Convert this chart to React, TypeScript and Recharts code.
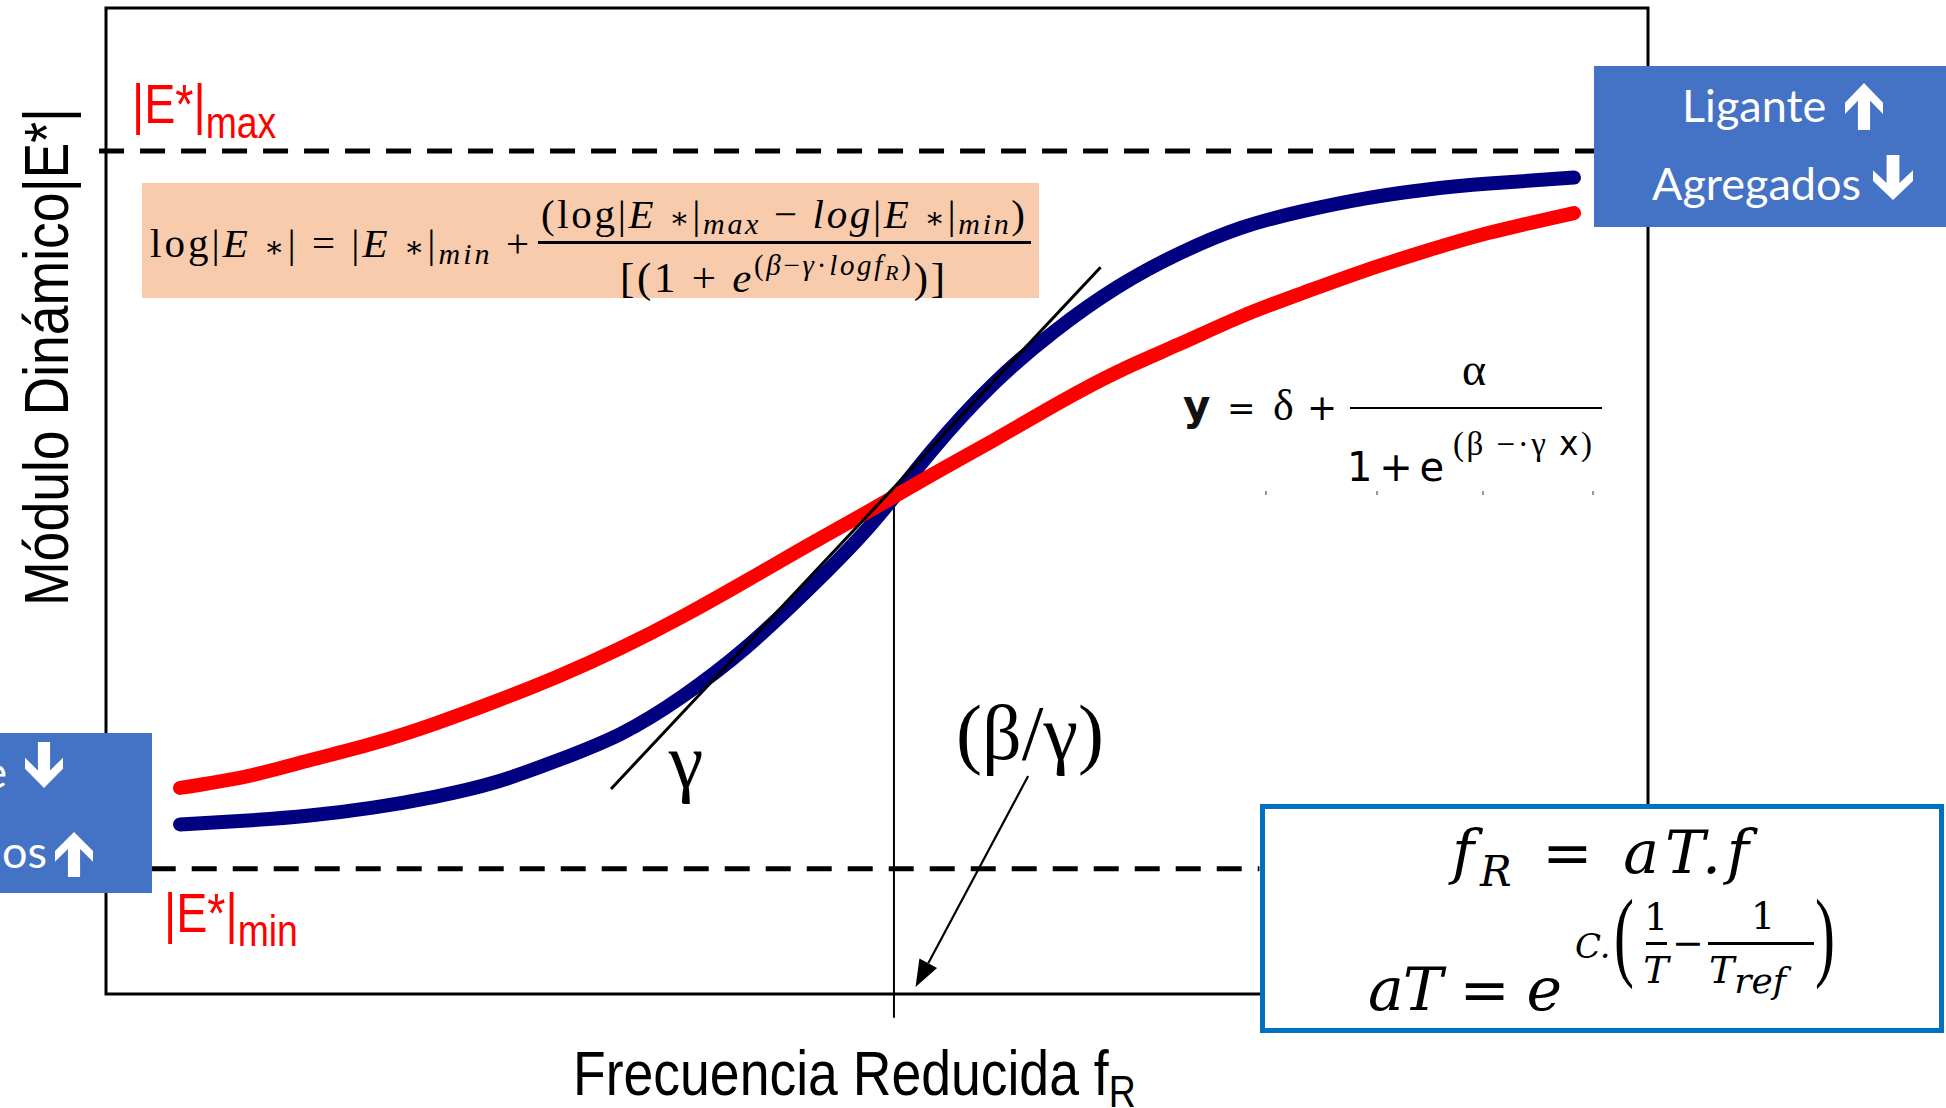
import React from 'react';
import { LineChart, Line, XAxis, YAxis, ReferenceLine, ReferenceArea } from 'recharts';

// x: log reduced frequency (arbitrary units 0..100), y: log |E*| (arbitrary units 0..100)
const logFR = [4.8, 9.2, 13.2, 17.3, 21.3, 25.3, 29.3, 33.4, 37.4, 41.4, 45.4, 49.5, 53.5, 57.5, 61.5, 65.6, 69.6, 73.6, 77.6, 81.7, 85.7, 89.7, 95.2];
const modulusBlue = [17.2, 17.6, 18.1, 18.9, 20.0, 21.5, 23.7, 26.4, 30.2, 35.0, 40.8, 47.4, 55.0, 61.8, 67.2, 71.7, 75.1, 77.7, 79.4, 80.7, 81.6, 82.2, 82.8];
const modulusRed = [20.9, 22.1, 23.7, 25.4, 27.4, 29.7, 32.2, 35.1, 38.3, 41.8, 45.4, 49.0, 52.6, 56.1, 59.7, 63.1, 65.9, 68.7, 71.1, 73.4, 75.4, 77.2, 79.2];

const eMaxLevel = 85.5;
const eMinLevel = 12.7;
const maxLineX = [-0.45, 96.6];
const minLineX = [2.9, 74.8];
const inflectionX = 51.1;
const inflectionTop = 50.5;
const inflectionBottom = -2.4;
const tangentPts = [{ x: 32.75, y: 20.8 }, { x: 64.5, y: 73.7 }];
const arrowPts = [{ x: 59.8, y: 22.1 }, { x: 52.5, y: 0.7 }];

const data = logFR.map((x, i) => ({ x, blue: modulusBlue[i], red: modulusRed[i] }));

const ARIAL = "'Liberation Sans', Arial, sans-serif";
const SERIF = "'Liberation Serif', 'Times New Roman', serif";
const MATH = "'DejaVu Serif', serif";
const SANS = "'DejaVu Sans', sans-serif";
const CAL = "Lato, 'Open Sans', sans-serif";

const ArrowShape = (props: any) => {
  const { x1, y1, x2, y2 } = props;
  const ang = Math.atan2(y2 - y1, x2 - x1);
  const L = 27, W = 10;
  const bx = x2 - L * Math.cos(ang), by = y2 - L * Math.sin(ang);
  const px = -Math.sin(ang) * W, py = Math.cos(ang) * W;
  return (
    <g>
      <line x1={x1} y1={y1} x2={bx} y2={by} stroke="#000" strokeWidth={2.2} />
      <polygon points={`${x2},${y2} ${bx + px},${by + py} ${bx - px},${by - py}`} fill="#000" />
    </g>
  );
};

const blockArrow = (x: number, y: number, w: number, h: number, up: boolean) => {
  const n = [[0.5, 0], [1, 0.42], [1, 0.66], [0.66, 0.38], [0.66, 1], [0.34, 1], [0.34, 0.38], [0, 0.66], [0, 0.42]];
  const pts = n.map(([a, b]) => `${x + a * w},${y + (up ? b : 1 - b) * h}`).join(' ');
  return <polygon points={pts} fill="#fff" />;
};

const Star = () => <tspan fontFamily={MATH} fontStyle="normal" fontSize={30}>∗</tspan>;

export default function App() {
  return (
    <div style={{ position: 'absolute', left: 0, top: 0, width: 1946, height: 1108, overflow: 'hidden', background: '#fff' }}>
      <LineChart width={1946} height={1108} data={data} margin={{ top: 8, left: 106, right: 298, bottom: 114 }}>
        <XAxis dataKey="x" type="number" domain={[0, 100]} hide allowDataOverflow />
        <YAxis type="number" domain={[0, 100]} hide allowDataOverflow />
        <ReferenceArea x1={0} x2={100} y1={0} y2={100} fill="none" fillOpacity={0} stroke="#000" strokeWidth={3} ifOverflow="visible" />
        <ReferenceLine segment={[{ x: maxLineX[0], y: eMaxLevel }, { x: maxLineX[1], y: eMaxLevel }]} stroke="#000" strokeWidth={5} strokeDasharray="25 16" ifOverflow="visible" />
        <ReferenceLine segment={[{ x: minLineX[0], y: eMinLevel }, { x: minLineX[1], y: eMinLevel }]} stroke="#000" strokeWidth={5} strokeDasharray="25 16" ifOverflow="visible" />
        <ReferenceLine segment={[{ x: inflectionX, y: inflectionTop }, { x: inflectionX, y: inflectionBottom }]} stroke="#000" strokeWidth={2} ifOverflow="visible" />
        <Line type="natural" dataKey="blue" stroke="#000080" strokeWidth={14} strokeLinecap="round" dot={false} activeDot={false} isAnimationActive={false} />
        <Line type="natural" dataKey="red" stroke="#FF0000" strokeWidth={14} strokeLinecap="round" dot={false} activeDot={false} isAnimationActive={false} />
        <ReferenceLine segment={tangentPts} stroke="#000" strokeWidth={3} ifOverflow="visible" />
        <ReferenceLine segment={arrowPts} ifOverflow="visible" shape={ArrowShape} />
      </LineChart>

      <svg width={1946} height={1108} style={{ position: 'absolute', left: 0, top: 0, pointerEvents: 'none' }}>
        {/* axis titles */}
        <text transform="translate(68,357) rotate(-90) scale(0.85,1)" textAnchor="middle" fontFamily={ARIAL} fontSize={63} fill="#000">Módulo Dinámico|E*|</text>
        <text transform="translate(573,1095) scale(0.85,1)" fontFamily={ARIAL} fontSize={63} fill="#000">Frecuencia Reducida f<tspan fontSize={44} dy={12}>R</tspan></text>

        {/* E max / E min */}
        <text transform="translate(132,123) scale(0.85,1)" fontFamily={ARIAL} fontSize={55} fill="#FF0000">|E*|<tspan fontSize={44} dy={15}>max</tspan></text>
        <text transform="translate(164,932) scale(0.85,1)" fontFamily={ARIAL} fontSize={55} fill="#FF0000">|E*|<tspan fontSize={44} dy={14}>min</tspan></text>

        {/* orange formula */}
        <rect x={142} y={183} width={897} height={115} fill="#F8CBAD" />
        <text x={150} y={257} fontFamily={SERIF} fontSize={41} fill="#000" textLength={379} lengthAdjust="spacing">
          log|<tspan fontStyle="italic">E</tspan> <Star />| = |<tspan fontStyle="italic">E</tspan> <Star />|<tspan fontStyle="italic" fontSize={30} dy={7}>min</tspan><tspan dy={-7}> +</tspan>
        </text>
        <rect x={538} y={241} width={493} height={3} fill="#000" />
        <text x={541} y={228} fontFamily={SERIF} fontSize={41} fill="#000" textLength={484} lengthAdjust="spacing">
          (log|<tspan fontStyle="italic">E</tspan> <Star />|<tspan fontStyle="italic" fontSize={30} dy={6}>max</tspan><tspan dy={-6}> − </tspan><tspan fontStyle="italic">log</tspan>|<tspan fontStyle="italic">E</tspan> <Star />|<tspan fontStyle="italic" fontSize={30} dy={6}>min</tspan><tspan dy={-6}>)</tspan>
        </text>
        <text x={620} y={292} fontFamily={SERIF} fontSize={43} fill="#000" textLength={325} lengthAdjust="spacing">
          [(1 + <tspan fontStyle="italic">e</tspan><tspan fontSize={29} dy={-17}>(<tspan fontStyle="italic">β</tspan>−<tspan fontStyle="italic">γ</tspan>·<tspan fontStyle="italic">logf</tspan><tspan fontStyle="italic" fontSize={22} dy={5}>R</tspan><tspan dy={-5}>)</tspan></tspan><tspan dy={17}>)]</tspan>
        </text>

        {/* sigmoid formula */}
        <text x={1183} y={420} fontFamily={SANS} fontSize={42} fontWeight="bold" fill="#111">y</text>
        <text x={1227} y={420} fontFamily={SANS} fontSize={34} fill="#000">=</text>
        <text x={1273} y={420} fontFamily={SERIF} fontSize={44} fill="#000">δ</text>
        <text x={1307} y={420} fontFamily={SANS} fontSize={36} fill="#000">+</text>
        <rect x={1350} y={407} width={252} height={2} fill="#000" />
        <text x={1474} y={385} textAnchor="middle" fontFamily={SERIF} fontSize={46} fill="#000">α</text>
        <text x={1347} y={481} fontFamily={SANS} fontSize={40} fill="#000" textLength={97} lengthAdjust="spacing">1 + e</text>
        <text x={1453} y={455} fontFamily={SERIF} fontSize={33} fill="#000" textLength={139} lengthAdjust="spacing">(β −·γ <tspan fontFamily={SANS}>x</tspan>)</text>
        {[1265, 1376, 1482, 1592].map((x) => (
          <rect key={x} x={x} y={491} width={2} height={4} fill="#999" />
        ))}

        {/* gamma and beta/gamma labels */}
        <text x={686} y={787} textAnchor="middle" fontFamily={SERIF} fontSize={78} fill="#000">γ</text>
        <text x={1030} y={759} textAnchor="middle" fontFamily={SERIF} fontSize={78} fill="#000">(β/γ)</text>

        {/* right blue box */}
        <rect x={1594} y={66} width={380} height={161} fill="#4472C4" />
        <text x={1682} y={122} fontFamily={CAL} fontSize={45} fill="#fff">Ligante</text>
        {blockArrow(1845, 83, 38, 47, true)}
        <text x={1652} y={200} fontFamily={CAL} fontSize={45} fill="#fff">Agregados</text>
        {blockArrow(1873, 155, 40, 45, false)}

        {/* left blue box */}
        <rect x={-230} y={733} width={382} height={160} fill="#4472C4" />
        <text x={7} y={788} textAnchor="end" fontFamily={CAL} fontSize={45} fill="#fff">Ligante</text>
        {blockArrow(25, 742, 38, 46, false)}
        <text x={47} y={868} textAnchor="end" fontFamily={CAL} fontSize={45} fill="#fff">Agregados</text>
        {blockArrow(55, 832, 38, 45, true)}

        {/* time-temperature box */}
        <rect x={1262.5} y={806.5} width={679} height={224} fill="#fff" stroke="#0070C0" strokeWidth={5} />
        <text x={1452} y={873} fontFamily={MATH} fontStyle="italic" fontSize={60} fill="#000" textLength={297} lengthAdjust="spacing">
          f<tspan fontSize={42} dy={13}>R</tspan><tspan dy={-13} fontStyle="normal"> = </tspan>aT.f
        </text>
        <text x={1368} y={1010} fontFamily={MATH} fontStyle="italic" fontSize={60} fill="#000" textLength={194} lengthAdjust="spacing">
          aT<tspan fontStyle="normal"> = </tspan>e
        </text>
        <text x={1575} y={958} fontFamily={MATH} fontStyle="italic" fontSize={34} fill="#000">C.</text>
        <text transform="translate(1614,968) scale(0.6,1)" fontFamily={SERIF} fontSize={100} fill="#000">(</text>
        <text x={1656} y={930} textAnchor="middle" fontFamily={MATH} fontSize={38} fill="#000">1</text>
        <rect x={1646} y={942} width={21} height={3} fill="#000" />
        <text x={1656} y={983} textAnchor="middle" fontFamily={MATH} fontStyle="italic" fontSize={38} fill="#000">T</text>
        <text x={1688} y={956} textAnchor="middle" fontFamily={MATH} fontSize={38} fill="#000">−</text>
        <text x={1763} y={929} textAnchor="middle" fontFamily={MATH} fontSize={38} fill="#000">1</text>
        <rect x={1708} y={942} width={106} height={3} fill="#000" />
        <text x={1709} y={983} fontFamily={MATH} fontStyle="italic" fontSize={38} fill="#000">T<tspan fontSize={36} dy={10}>ref</tspan></text>
        <text transform="translate(1815,968) scale(0.6,1)" fontFamily={SERIF} fontSize={100} fill="#000">)</text>
      </svg>
    </div>
  );
}
